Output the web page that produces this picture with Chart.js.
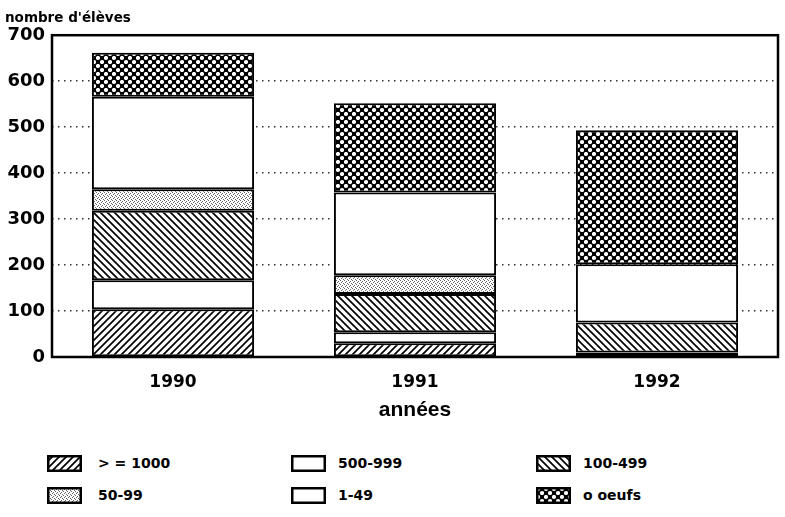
<!DOCTYPE html>
<html><head><meta charset="utf-8">
<script src="https://cdn.jsdelivr.net/npm/chart.js@4/dist/chart.umd.min.js"></script>
<style>
html,body{margin:0;padding:0;background:#fff;}
#wrap{position:relative;width:785px;height:517px;overflow:hidden;background:#fff;}
#c{position:absolute;left:0;top:0;}
.sw{position:absolute;}
.lt{position:absolute;font:bold 14px "DejaVu Sans";color:#000;white-space:nowrap;line-height:16px;}
</style></head>
<body>
<div id="wrap">
<canvas id="c" width="785" height="430"></canvas>
</div>
<script>
const years = ['1990', '1991', '1992'];
const seriesLabels = ['> = 1000', '500-999', '100-499', '50-99', '1-49', 'o oeufs'];
const vGe1000 = [104, 30, 10];
const v500_999 = [63, 24, 0];
const v100_499 = [151, 83, 65];
const v50_99 = [47, 41, 0];
const v1_49 = [201, 180, 127];
const vOeufs = [96, 194, 291];
const yMax = 700;
const yStep = 100;

function makePattern(ctx, type) {
  const c = document.createElement('canvas');
  let s;
  if (type === 'up' || type === 'down') {
    s = 7; c.width = c.height = s;
    const g = c.getContext('2d');
    g.fillStyle = '#fff'; g.fillRect(0, 0, s, s);
    g.strokeStyle = '#000'; g.lineWidth = 1.7; g.beginPath();
    if (type === 'up') {
      g.moveTo(-1, s + 1); g.lineTo(s + 1, -1);
      g.moveTo(-2, 2); g.lineTo(2, -2);
      g.moveTo(s - 2, s + 2); g.lineTo(s + 2, s - 2);
    } else {
      g.moveTo(-1, -1); g.lineTo(s + 1, s + 1);
      g.moveTo(s - 2, -2); g.lineTo(s + 2, 2);
      g.moveTo(-2, s - 2); g.lineTo(2, s + 2);
    }
    g.stroke();
  } else if (type === 'stipple') {
    s = 4; c.width = c.height = s;
    const g = c.getContext('2d');
    g.fillStyle = '#fff'; g.fillRect(0, 0, s, s);
    g.fillStyle = '#666';
    [[0,0],[2,1],[1,2],[3,3]].forEach(p => g.fillRect(p[0], p[1], 1, 1));
  } else if (type === 'oeufs') {
    s = 8; c.width = c.height = s;
    const g = c.getContext('2d');
    g.fillStyle = '#000'; g.fillRect(0, 0, s, s);
    g.fillStyle = '#fff';
    [[2,2],[6,6]].forEach(p => { g.beginPath(); g.arc(p[0], p[1], 2.1, 0, Math.PI * 2); g.fill(); });
  } else {
    s = 4; c.width = c.height = s;
    const g = c.getContext('2d');
    g.fillStyle = '#fff'; g.fillRect(0, 0, s, s);
  }
  return ctx.createPattern(c, 'repeat');
}

const patternTypes = ['up', 'white', 'down', 'stipple', 'white', 'oeufs'];
const seriesValues = [vGe1000, v500_999, v100_499, v50_99, v1_49, vOeufs];

const canvas = document.getElementById('c');
const ctx = canvas.getContext('2d');

const datasets = seriesLabels.map((lab, i) => ({
  label: lab,
  data: seriesValues[i],
  backgroundColor: makePattern(ctx, patternTypes[i]),
  borderColor: '#000',
  borderWidth: 2,
  borderSkipped: false,
  categoryPercentage: 1,
  barPercentage: 0.67
}));

const frame = {
  id: 'frame',
  afterDraw(chart) {
    const { ctx, chartArea: a } = chart;
    ctx.save();
    ctx.strokeStyle = '#000';
    ctx.lineWidth = 2.5;
    ctx.strokeRect(a.left, a.top, a.right - a.left, a.bottom - a.top);
    ctx.restore();
  }
};

new Chart(ctx, {
  type: 'bar',
  data: { labels: years, datasets },
  plugins: [frame],
  options: {
    responsive: false,
    devicePixelRatio: 1,
    animation: false,
    layout: { padding: { left: 5, right: 7, top: 0, bottom: 0 } },
    plugins: {
      legend: { display: false },
      tooltip: { enabled: false },
      title: {
        display: true,
        text: "nombre d'élèves",
        align: 'start',
        color: '#000',
        font: { family: 'DejaVu Sans', weight: 'bold', size: 13.5 },
        padding: { top: 10, bottom: 9 }
      }
    },
    scales: {
      x: {
        stacked: true,
        grid: { display: false },
        border: { display: false },
        ticks: { color: '#000', padding: 7, font: { family: 'DejaVu Sans', weight: 'bold', size: 17 } },
        title: {
          display: true,
          text: 'années',
          color: '#000',
          font: { family: 'Liberation Sans', weight: 'bold', size: 21 },
          padding: { top: 0, bottom: 7 }
        },
        afterFit(scale) { scale.height = 73; }
      },
      y: {
        stacked: true,
        min: 0,
        max: yMax,
        ticks: { stepSize: yStep, color: '#000', padding: 7, font: { family: 'DejaVu Sans', weight: 'bold', size: 18 } },
        grid: { color: '#333', lineWidth: 1.5, drawTicks: false },
        border: { display: false, dash: [1.5, 4.5] },
        afterFit(scale) { scale.width = 47; }
      }
    }
  }
});

// HTML legend (3 columns x 2 rows)
const wrap = document.getElementById('wrap');
const colSwX = [47, 291, 536];
const colTxtX = [98, 338, 583];
const rowY = [463, 495];
seriesLabels.forEach((lab, i) => {
  const col = i % 3, row = Math.floor(i / 3);
  const sw = document.createElement('canvas');
  sw.width = 35; sw.height = 17;
  sw.className = 'sw';
  sw.style.left = colSwX[col] + 'px';
  sw.style.top = (rowY[row] - 8.5) + 'px';
  const g = sw.getContext('2d');
  g.fillStyle = makePattern(g, patternTypes[i]);
  g.fillRect(0, 0, 35, 17);
  g.strokeStyle = '#000'; g.lineWidth = 2.5;
  g.strokeRect(1.25, 1.25, 32.5, 14.5);
  wrap.appendChild(sw);
  const t = document.createElement('div');
  t.className = 'lt';
  t.textContent = lab;
  t.style.left = colTxtX[col] + 'px';
  t.style.top = (rowY[row] - 8) + 'px';
  wrap.appendChild(t);
});
</script>
</body></html>
